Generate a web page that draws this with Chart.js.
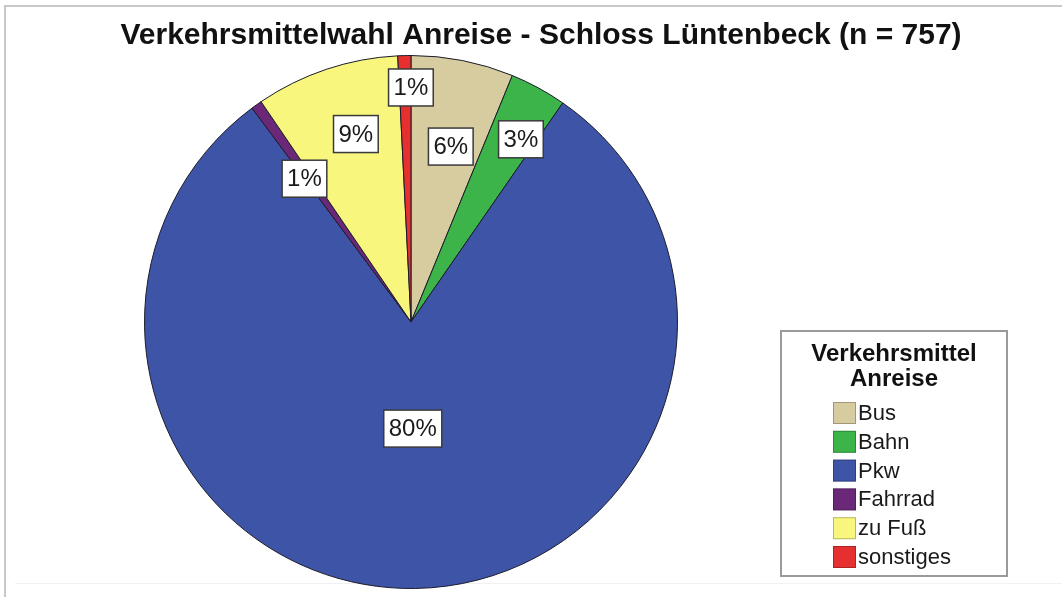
<!DOCTYPE html>
<html>
<head>
<meta charset="utf-8">
<script src="https://cdn.jsdelivr.net/npm/chart.js@4.4.1/dist/chart.umd.min.js"></script>
<style>
  html, body { margin: 0; padding: 0; background: #ffffff; }
  #wrap { position: relative; width: 1062px; height: 597px; }
</style>
</head>
<body>
<div id="wrap"><canvas id="c" width="1062" height="597"></canvas></div>
<script>
// Survey: how visitors arrived at Schloss Lüntenbeck (counts of respondents)
const chartTitle = 'Verkehrsmittelwahl Anreise - Schloss Lüntenbeck (n = 757)';
const legendTitle = ['Verkehrsmittel', 'Anreise'];
const categories = ['Bus', 'Bahn', 'Pkw', 'Fahrrad', 'zu Fuß', 'sonstiges'];
const counts = [47, 26, 607, 5, 66, 6];
const sliceColors = ['#d6cc9f', '#3cb44a', '#3e55a7', '#6b2878', '#f8f67c', '#e62f2f'];

// Placement of each percentage box: fraction of the radius and a small
// angular nudge (degrees) away from the slice bisector
const labelRadius = [0.675, 0.80, 0.40, 0.67, 0.735, 0.88];
const labelNudge = [1.6, 2.5, 0, -1.2, 2.2, 1.4];
const labelFont = '24px "Liberation Sans", Arial, sans-serif';

const total = counts.reduce((a, b) => a + b, 0);

// Frame lines and the title
const framePlugin = {
  id: 'frame',
  beforeDraw(chart) {
    const ctx = chart.ctx;
    ctx.save();
    ctx.fillStyle = '#ffffff';
    ctx.fillRect(0, 0, chart.width, chart.height);
    ctx.strokeStyle = '#c8c8c8';
    ctx.lineWidth = 2;
    ctx.beginPath();
    ctx.moveTo(5, chart.height);
    ctx.lineTo(5, 6);
    ctx.lineTo(chart.width, 6);
    ctx.stroke();
    ctx.strokeStyle = '#f1f1f1';
    ctx.lineWidth = 1;
    ctx.beginPath();
    ctx.moveTo(15, 583.5);
    ctx.lineTo(chart.width, 583.5);
    ctx.stroke();
    ctx.fillStyle = '#111111';
    ctx.font = 'bold 30px "Liberation Sans", Arial, sans-serif';
    ctx.textAlign = 'center';
    ctx.textBaseline = 'middle';
    ctx.fillText(chartTitle, 541, 36);
    ctx.restore();
  }
};

// Percentage boxes placed near each slice's bisector
const sliceLabels = {
  id: 'sliceLabels',
  afterDatasetsDraw(chart) {
    const ctx = chart.ctx;
    const meta = chart.getDatasetMeta(0);
    ctx.save();
    ctx.font = labelFont;
    ctx.textAlign = 'center';
    ctx.textBaseline = 'middle';
    meta.data.forEach((arc, i) => {
      const p = arc.getProps(['x', 'y', 'startAngle', 'endAngle', 'outerRadius'], true);
      const mid = (p.startAngle + p.endAngle) / 2 + labelNudge[i] * Math.PI / 180;
      const r = p.outerRadius * labelRadius[i];
      const cx = p.x + Math.cos(mid) * r;
      const cy = p.y + Math.sin(mid) * r;
      const text = Math.round(counts[i] / total * 100) + '%';
      const w = ctx.measureText(text).width + 10;
      const h = 37;
      ctx.fillStyle = '#ffffff';
      ctx.fillRect(cx - w / 2, cy - h / 2, w, h);
      ctx.strokeStyle = '#3a3a3a';
      ctx.lineWidth = 1.5;
      ctx.strokeRect(cx - w / 2, cy - h / 2, w, h);
      ctx.fillStyle = '#1a1a1a';
      ctx.fillText(text, cx, cy + 1);
    });
    ctx.restore();
  }
};

// Boxed legend at the lower right
const boxLegend = {
  id: 'boxLegend',
  afterDraw(chart) {
    const ctx = chart.ctx;
    const bx = 781, by = 331, bw = 226, bh = 245;
    ctx.save();
    ctx.fillStyle = '#ffffff';
    ctx.fillRect(bx, by, bw, bh);
    ctx.strokeStyle = '#9a9a9a';
    ctx.lineWidth = 2;
    ctx.strokeRect(bx, by, bw, bh);
    ctx.fillStyle = '#111111';
    ctx.font = 'bold 24px "Liberation Sans", Arial, sans-serif';
    ctx.textAlign = 'center';
    ctx.textBaseline = 'middle';
    legendTitle.forEach((t, i) => ctx.fillText(t, 894, 354 + i * 25));
    ctx.font = '22px "Liberation Sans", Arial, sans-serif';
    ctx.textAlign = 'left';
    categories.forEach((name, i) => {
      const y = 413 + i * 28.8;
      ctx.fillStyle = sliceColors[i];
      ctx.fillRect(833, y - 11, 23, 22);
      ctx.strokeStyle = 'rgba(0,0,0,0.25)';
      ctx.lineWidth = 1;
      ctx.strokeRect(833.5, y - 10.5, 22, 21);
      ctx.fillStyle = '#1a1a1a';
      ctx.fillText(name, 858, y + 1);
    });
    ctx.restore();
  }
};

new Chart(document.getElementById('c'), {
  type: 'pie',
  data: {
    labels: categories,
    datasets: [{
      data: counts,
      backgroundColor: sliceColors,
      borderColor: '#1c1c2c',
      borderWidth: 1
    }]
  },
  options: {
    responsive: false,
    animation: false,
    rotation: 0,
    layout: { padding: { left: 144, right: 384, top: 55, bottom: 8 } },
    plugins: {
      legend: { display: false },
      title: { display: false },
      tooltip: { enabled: false }
    }
  },
  plugins: [framePlugin, sliceLabels, boxLegend]
});
</script>
</body>
</html>
